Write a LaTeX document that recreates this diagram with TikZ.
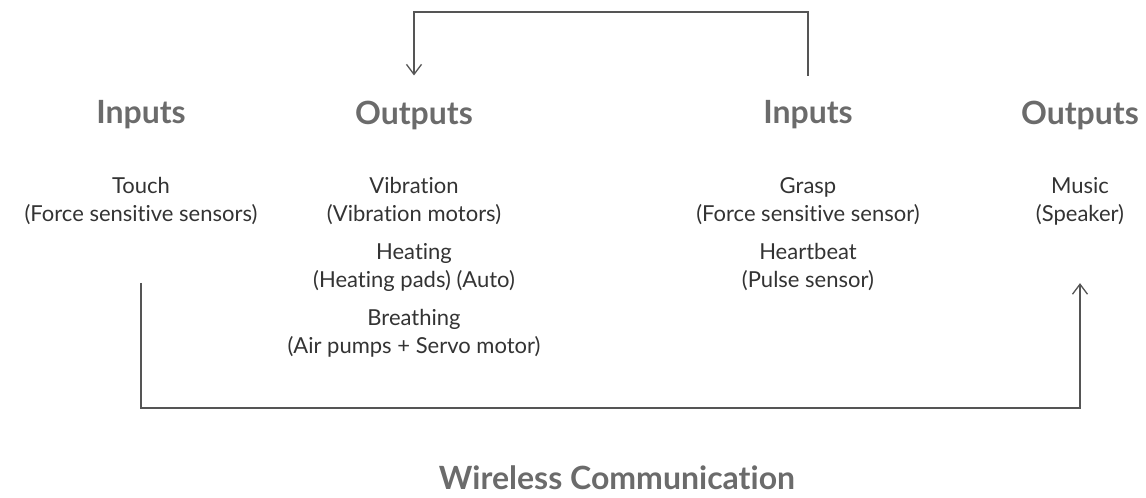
\documentclass[tikz,border=0pt]{standalone}
\usepackage{fontspec}
\setmainfont{Lato}[Ligatures={NoCommon}]
\usetikzlibrary{positioning, arrows.meta}

\definecolor{linegray}{HTML}{555555}
\definecolor{headgray}{HTML}{6B6B6B}
\definecolor{textgray}{HTML}{333333}

\begin{document}
\begin{tikzpicture}[x=1pt, y=-1pt]
    % Styles
    \tikzstyle{heading} = [font=\fontsize{32}{36}\selectfont\bfseries, text=headgray, inner sep=0pt]
    \tikzstyle{item} = [font=\fontsize{22}{28}\selectfont, text=textgray, align=center, inner sep=0pt]
    \tikzstyle{link} = [draw=linegray, line width=1.3pt, -{Straight Barb[length=10pt, width=15pt]}]

    \useasboundingbox (0, 0) rectangle (1146, 498);

    % Headings
    \node[heading] (in1) at (141, 115) {Inputs};
    \node[heading] (out1) at (414, 115) {Outputs};
    \node[heading] (in2) at (808, 115) {Inputs};
    \node[heading] (out2) at (1080, 115) {Outputs};

    % Items
    \node[item] (touch) at (141, 201) {Touch\\(Force sensitive sensors)};
    \node[item] (vib) at (414, 201) {Vibration\\(Vibration motors)};
    \node[item] (heat) at (414, 267) {Heating\\(Heating pads) (Auto)};
    \node[item] (breath) at (414, 333) {Breathing\\(Air pumps + Servo motor)};
    \node[item] (grasp) at (808, 201) {Grasp\\(Force sensitive sensor)};
    \node[item] (pulse) at (808, 267) {Heartbeat\\(Pulse sensor)};
    \node[item] (music) at (1080, 201) {Music\\(Speaker)};

    \node[heading] (wireless) at (617, 478) {Wireless Communication};

    % Edges
    \coordinate (top) at (0, 12);
    \coordinate (bottom) at (0, 408);
    \draw[link] (in2.north) ++(0, -25) |- (top -| out1) -- ([yshift=25pt]out1.north);
    \draw[link] ([yshift=-58pt]touch.south) |- (bottom -| music) -- ([yshift=-58pt]music.south);
\end{tikzpicture}
\end{document}
